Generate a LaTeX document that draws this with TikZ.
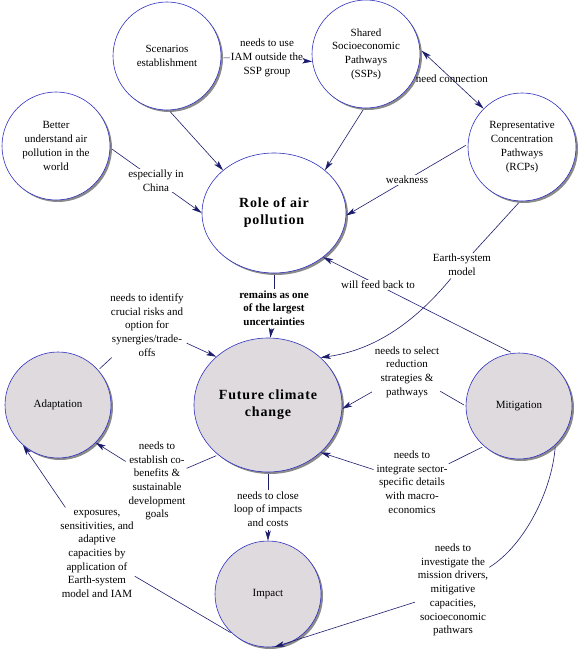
\documentclass[tikz,border=0pt]{standalone}
\usepackage{fontspec}
\setmainfont{Liberation Serif}
\newfontfamily\titlefont[LetterSpace=6]{Liberation Serif}
\usetikzlibrary{shapes.geometric,shadows,arrows.meta}
\definecolor{rim}{HTML}{3030C0}
\definecolor{ink}{HTML}{1C1C6C}
\definecolor{disc}{HTML}{DEDADE}
\definecolor{shade}{HTML}{8A8A8A}
\newcommand{\txt}{\fontsize{11}{13.7}\selectfont}
\newcommand{\ttl}{\titlefont\bfseries\fontsize{14}{17}\selectfont}

\begin{document}
\begin{tikzpicture}[x=1pt,y=-1pt,
		>={Stealth[length=10pt,width=5.5pt,inset=2.5pt]},
		regnode/.style={circle,draw=rim,line width=0.6pt,fill=white,minimum size=108pt,inner sep=0pt,align=center,font=\txt,
			drop shadow={shadow xshift=2pt,shadow yshift=-2pt,fill=shade,opacity=1}},
		grnode/.style={regnode,fill=disc,minimum size=106pt},
		rootnode/.style={regnode,ellipse,minimum width=144pt,minimum height=120pt,font=\ttl},
		lab/.style={fill=white,inner sep=1pt,align=center,font=\txt},
		blab/.style={lab,font=\txt\bfseries},
		conn/.style={draw=ink,line width=0.6pt,shorten <=2pt}
		]
		\useasboundingbox (0,0) rectangle (580,652);
		% circles
		\node (sc) [regnode] at (167,56) {Scenarios\\establishment};
		\node (ssp) [regnode] at (366,54) {Shared\\Socioeconomic\\Pathways\\(SSPs)};
		\node (rcp) [regnode] at (522,147) {Representative\\Concentration\\Pathways\\(RCPs)};
		\node (bu) [regnode] at (56,146) {Better\\understand air\\pollution in the\\world};
		\node (r) [rootnode] at (274,213) {Role of air\\pollution};
		\node (f) [rootnode,fill=disc,minimum width=148pt,minimum height=134pt] at (268,405) {Future climate\\change};
		\node (ad) [grnode] at (58,405) {Adaptation};
		\node (mi) [grnode] at (519,406) {Mitigation};
		\node (im) [grnode] at (268,594) {Impact};
		% labels
		\node (lIam) [lab] at (267,58) {needs to use\\IAM outside the\\SSP group};
		\node (lEsm) [lab] at (462,265) {Earth-system\\model};
		\node (lRem) [blab] at (274,308) {remains as one\\of the largest\\uncertainties};
		\node (lRisk) [lab] at (147,325) {needs to identify\\crucial risks and\\option for\\synergies/trade-\\offs};
		\node (lCob) [lab] at (157,481) {needs to\\establish co-\\benefits \&\\sustainable\\development\\goals};
		\node (lSel) [lab] at (407,372) {needs to select\\reduction\\strategies \&\\pathways};
		\node (lInt) [lab] at (412,482) {needs to\\integrate sector-\\specific details\\with macro-\\economics};
		\node (lLoop) [lab] at (268,509) {needs to close\\loop of impacts\\and costs};
		\node (lExp) [lab] at (97,554) {exposures,\\sensitivities, and\\adaptive\\capacities by\\application of\\Earth-system\\model and IAM};
		\node (lInv) [lab] at (453,590) {needs to\\investigate the\\mission drivers,\\mitigative\\capacities,\\socioeconomic\\pathwars};
		% connectors
		\draw[conn] (sc.-2) -- (lIam);
		\draw[conn,->] (lIam) -- (ssp.-172);
		\draw[conn,<->] (ssp.5) -- node[font=\txt,inner sep=1pt]{need connection} (rcp.135);
		\draw[conn,->] (sc.-88) -- (r.140);
		\draw[conn,->] (ssp.-92) -- (r.40);
		\draw[conn,->] (rcp.177) -- node[lab]{weakness} (r.-2);
		\draw[conn,->] (bu.-2) -- node[lab]{especially in\\China} (r.180);
		\draw[conn] (rcp.-92) -- (lEsm);
		\draw[conn,->] (lEsm) .. controls (415,322) and (375,350) .. (f.42);
		\draw[conn,->] (mi.97) -- node[lab,pos=0.71]{will feed back to} (r.-42);
		\draw[conn] (r.-90) -- (lRem);
		\draw[conn,->] (lRem) -- (f.88);
		\draw[conn] (ad.41) -- (lRisk);
		\draw[conn,->] (lRisk) -- (f.137);
		\draw[conn] (f.-135) -- (lCob);
		\draw[conn,->] (lCob) -- (ad.-45);
		\draw[conn] (mi.180) -- (lSel);
		\draw[conn,->] (lSel) -- (f.-3);
		\draw[conn] (mi.-131) -- (lInt);
		\draw[conn,->] (lInt) -- (f.-42);
		\draw[conn] (f.-90) -- (lLoop);
		\draw[conn,->] (lLoop) -- (im.90);
		\draw[conn] (im.-132) -- (lExp);
		\draw[conn,->] (lExp) -- (ad.-131);
		\draw[conn] (mi.-47) .. controls (552,490) and (525,545) .. (lInv.32);
		\draw[conn,->] (lInv) -- (im.-83);
\end{tikzpicture}
\end{document}
